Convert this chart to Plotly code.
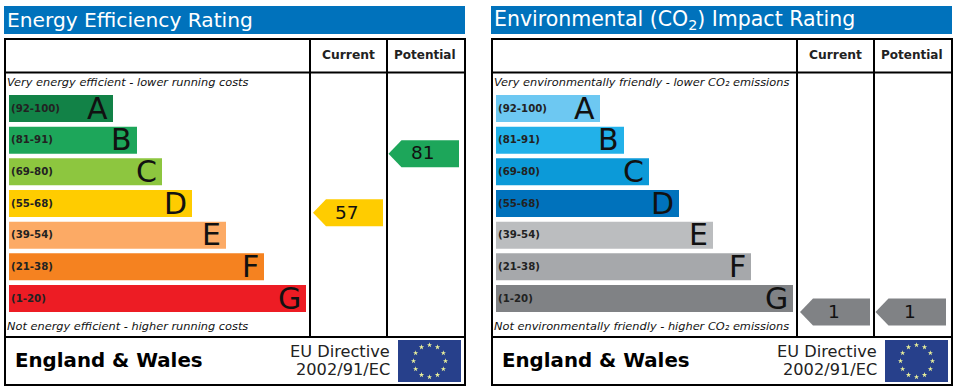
import math
import plotly.graph_objects as go
from plotly.subplots import make_subplots

W, H = 957, 392
PANEL_W = 470
PANEL_OFFSET = 487

LETTERS = ["A", "B", "C", "D", "E", "F", "G"]
BAND_LOW = [92, 81, 69, 55, 39, 21, 1]
BAND_HIGH = [100, 91, 80, 68, 54, 38, 20]
BAR_LENGTHS = [104, 128, 153, 183, 217, 255, 297]

ENERGY_COLORS = ["#128247", "#1DA65A", "#8DC63F", "#FFCC00", "#FCAA65", "#F58220", "#ED1C24"]
ENV_COLORS = ["#6DC8F2", "#22B1E9", "#0C9AD8", "#0072BC", "#BBBDBF", "#A6A8AB", "#808285"]

ENERGY_TITLE = "Energy Efficiency Rating"
ENV_TITLE = "Environmental (CO<sub>2</sub>) Impact Rating"
ENERGY_TOP = "Very energy efficient - lower running costs"
ENERGY_BOTTOM = "Not energy efficient - higher running costs"
ENV_TOP = "Very environmentally friendly - lower CO₂ emissions"
ENV_BOTTOM = "Not environmentally friendly - higher CO₂ emissions"

ENERGY_CURRENT = 57
ENERGY_POTENTIAL = 81
ENV_CURRENT = 1
ENV_POTENTIAL = 1

FONT = "DejaVu Sans"
BLUE = "#0072BC"
BAR_LEFT, BAR_H, ROW_TOP, ROW_STEP = 9, 27, 95, 31.67


def row_top(i):
    return ROW_TOP + i * ROW_STEP


def rating_y(v):
    for i, (lo, hi) in enumerate(zip(BAND_LOW, BAND_HIGH)):
        if lo <= v <= hi:
            return row_top(i) + (hi - v) / (hi - lo) * BAR_H
    return row_top(6)


fig = make_subplots(rows=1, cols=2)
fig.update_layout(
    width=W, height=H, margin=dict(l=0, r=0, t=0, b=0, pad=0),
    paper_bgcolor="white", plot_bgcolor="white", showlegend=False,
    barmode="overlay", font=dict(family=FONT, color="#000000"),
)
fig.update_xaxes(range=[0, PANEL_W], visible=False, fixedrange=True, row=1, col=1,
                 domain=[0, PANEL_W / W])
fig.update_xaxes(range=[0, PANEL_W], visible=False, fixedrange=True, row=1, col=2,
                 domain=[PANEL_OFFSET / W, (PANEL_OFFSET + PANEL_W) / W])
fig.update_yaxes(range=[H, 0], visible=False, fixedrange=True, domain=[0, 1])


def text(col, x, y, s, size, anchor="left", bold=False, italic=False, color="#000000"):
    fig.add_annotation(
        xref=f"x{col if col > 1 else ''}", yref=f"y{col if col > 1 else ''}",
        x=x, y=y, text=f"<b>{s}</b>" if bold else (f"<i>{s}</i>" if italic else s),
        showarrow=False, xanchor=anchor, yanchor="middle", borderpad=0, borderwidth=0,
        font=dict(family=FONT, size=size, color=color),
    )


def panel(col, title, top, bottom, colors, current, potential, title_size):
    xr, yr = f"x{col if col > 1 else ''}", f"y{col if col > 1 else ''}"

    def rect(x0, y0, x1, y1, fill=None, line=None):
        fig.add_shape(type="rect", xref=xr, yref=yr, x0=x0, y0=y0, x1=x1, y1=y1, layer="below",
                      fillcolor=fill or "rgba(0,0,0,0)",
                      line=dict(color=line or "rgba(0,0,0,0)", width=2 if line else 0))

    def seg(x0, y0, x1, y1):
        fig.add_shape(type="line", xref=xr, yref=yr, x0=x0, y0=y0, x1=x1, y1=y1,
                      line=dict(color="#000000", width=2))

    rect(4, 6, 465, 34, fill=BLUE)
    rect(5, 39, 465, 385, line="#000000")
    seg(5, 72.5, 465, 72.5)
    seg(5, 337, 465, 337)
    seg(310, 39, 310, 337)
    seg(387, 39, 387, 337)

    text(col, 7, 20, title, title_size, color="#FFFFFF")
    text(col, 348.5, 54.5, "Current", 12.3, "center", bold=True, color="#222222")
    text(col, 425, 54.5, "Potential", 12, "center", bold=True, color="#222222")
    text(col, 7, 82, top, 11.35, italic=True, color="#111111")
    text(col, 7, 326, bottom, 11.35, italic=True, color="#111111")
    text(col, 14.5, 360.5, "England &amp; Wales", 19.8, bold=True)
    text(col, 390, 351, "EU Directive", 16.2, "right", color="#222222")
    text(col, 390, 369.5, "2002/91/EC", 16.2, "right", color="#222222")

    # bands
    fig.add_trace(go.Bar(
        orientation="h", base=BAR_LEFT, x=BAR_LENGTHS,
        y=[row_top(i) + BAR_H / 2 for i in range(7)], width=BAR_H,
        marker=dict(color=colors, line=dict(width=0)), hoverinfo="skip",
    ), row=1, col=col)
    for i, letter in enumerate(LETTERS):
        yc = row_top(i) + BAR_H / 2
        text(col, 11, yc - 0.5, f"({BAND_LOW[i]}-{BAND_HIGH[i]})", 10.2, bold=True, color="#222222")
        text(col, BAR_LEFT + BAR_LENGTHS[i] - 5.5, yc - 0.5, letter, 30, "right", color="#111111")

    # rating pointers: (tip x, right x)
    for value, tip, right, tx in ((current, 313, 383, 347), (potential, 388.5, 459, 423)):
        y = rating_y(value)
        band = next(i for i in range(7) if BAND_LOW[i] <= value <= BAND_HIGH[i])
        fig.add_trace(go.Scatter(
            x=[tip, tip + 13, right, right, tip + 13, tip],
            y=[y, y - BAR_H / 2, y - BAR_H / 2, y + BAR_H / 2, y + BAR_H / 2, y],
            mode="lines", fill="toself", fillcolor=colors[band],
            line=dict(width=0), hoverinfo="skip",
        ), row=1, col=col)
        text(col, tx, y - 0.7, str(value), 18.5, "center", color="#111111")

    # EU flag
    rect(398, 340, 461, 382, fill="#27408B")
    cx, cy, r = 429.5, 361, 16
    fig.add_trace(go.Scatter(
        x=[cx + r * math.sin(k * math.pi / 6) for k in range(12)],
        y=[cy - r * math.cos(k * math.pi / 6) for k in range(12)],
        mode="markers", marker=dict(symbol="star", size=4, color="#E8EE9A", line=dict(width=0)),
        hoverinfo="skip",
    ), row=1, col=col)


panel(1, ENERGY_TITLE, ENERGY_TOP, ENERGY_BOTTOM, ENERGY_COLORS, ENERGY_CURRENT, ENERGY_POTENTIAL, 20.2)
panel(2, ENV_TITLE, ENV_TOP, ENV_BOTTOM, ENV_COLORS, ENV_CURRENT, ENV_POTENTIAL, 20.5)

fig.write_html("out.html", config=dict(displayModeBar=False),
               post_script="document.body.style.margin='0';document.documentElement.style.overflow='hidden';")
